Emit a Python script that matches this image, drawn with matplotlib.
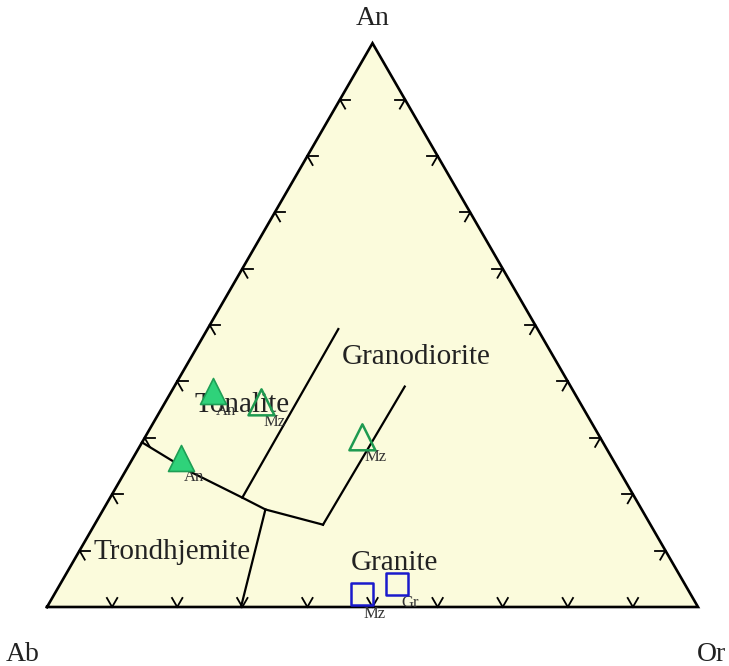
import matplotlib.pyplot as plt
import numpy as np

# Ternary An-Ab-Or classification (fractions of An, Or; Ab = 1 - An - Or)
# Field boundaries
bnd_trond_an = [0.292, 0.240, 0.194, 0.173, 0.146]
bnd_trond_or = [0.000, 0.100, 0.203, 0.249, 0.351]
bnd_ton_an = [0.194, 0.493]
bnd_ton_or = [0.203, 0.201]
bnd_gd_an = [0.146, 0.391]
bnd_gd_or = [0.351, 0.354]
bnd_gr_an = [0.173, 0.000]
bnd_gr_or = [0.249, 0.298]

# Samples
filled_an = [0.383, 0.265]
filled_or = [0.064, 0.073]
filled_lab = ['An', 'An']
open_an = [0.363, 0.301]
open_or = [0.148, 0.334]
open_lab = ['Mz', 'Mz']
sq_an = [0.023, 0.041]
sq_or = [0.472, 0.517]
sq_lab = ['Mz', 'Gr']

fields = ['Granodiorite', 'Tonalite', 'Trondhjemite', 'Granite']
field_an = [0.443, 0.359, 0.098, 0.078]
field_or = [0.345, 0.120, 0.143, 0.494]

H = np.sqrt(3) / 2


def xy(an, orr):
    an = np.asarray(an, float)
    orr = np.asarray(orr, float)
    return orr + an / 2, an * H


plt.rcParams['font.family'] = ['Liberation Serif', 'DejaVu Serif']

fig = plt.figure(figsize=(7.29, 6.66), dpi=100)
ax = fig.add_axes([0, 0, 1, 1])
ax.set_xlim(-47 / 651, 682 / 651)
ax.set_ylim(-59 / 651, 607 / 651)
ax.axis('off')

# triangle
tri_x = [0, 1, 0.5, 0]
tri_y = [0, 0, H, 0]
ax.fill(tri_x, tri_y, color='#FBFBDC', zorder=0)
ax.plot(tri_x, tri_y, color='black', lw=1.9, zorder=2, solid_joinstyle='miter')

# chevron ticks every 10 %
L = 0.016
d_up_right = np.array([0.5, H])
d_up_left = np.array([-0.5, H])
d_right = np.array([1.0, 0])
for t in np.arange(0.1, 0.95, 0.1):
    # base
    p = np.array([t, 0])
    for d in (d_up_left, d_up_right):
        ax.plot([p[0], p[0] + L * d[0]], [p[1], p[1] + L * d[1]], color='black', lw=1.3, zorder=2)
    # left edge
    p = np.array([t / 2, t * H])
    for d in (d_right, -d_up_left):
        ax.plot([p[0], p[0] + L * d[0]], [p[1], p[1] + L * d[1]], color='black', lw=1.3, zorder=2)
    # right edge
    p = np.array([1 - t / 2, t * H])
    for d in (-d_right, -d_up_right):
        ax.plot([p[0], p[0] + L * d[0]], [p[1], p[1] + L * d[1]], color='black', lw=1.3, zorder=2)

# field boundaries
for a, o in [(bnd_trond_an, bnd_trond_or), (bnd_ton_an, bnd_ton_or),
             (bnd_gd_an, bnd_gd_or), (bnd_gr_an, bnd_gr_or)]:
    bx, by = xy(a, o)
    ax.plot(bx, by, color='black', lw=1.6, zorder=2)

# field names
for name, a, o in zip(fields, field_an, field_or):
    fx, fy = xy(a, o)
    ax.text(fx, fy, name, fontsize=21, ha='center', va='center', color='#222222', zorder=3)

# corner labels
ax.text(0.5, H + 0.038, 'An', fontsize=20, ha='center', va='center', color='#222222')
ax.text(-0.038, -0.073, 'Ab', fontsize=20, ha='center', va='center', color='#222222')
ax.text(1.021, -0.073, 'Or', fontsize=20, ha='center', va='center', color='#222222')

# samples
lab_dx, lab_dy = 0.020, -0.030
px, py = xy(filled_an, filled_or)
ax.scatter(px, py, marker='^', s=350, facecolor='#2FD27A', edgecolor='#1E9E55', lw=1.2, zorder=4)
for x_, y_, s in zip(px, py, filled_lab):
    ax.text(x_ + lab_dx, y_ + lab_dy, s, fontsize=12, ha='center', va='center', color='#333333', zorder=3)

px, py = xy(open_an, open_or)
ax.scatter(px, py, marker='^', s=350, facecolor='none', edgecolor='#1E9A50', lw=1.8, zorder=4)
for x_, y_, s in zip(px, py, open_lab):
    ax.text(x_ + lab_dx, y_ + lab_dy, s, fontsize=12, ha='center', va='center', color='#333333', zorder=3)

px, py = xy(sq_an, sq_or)
ax.scatter(px, py, marker='s', s=250, facecolor='none', edgecolor='#1A1ACC', lw=1.8, zorder=4)
for x_, y_, s in zip(px, py, sq_lab):
    ax.text(x_ + lab_dx, y_ + lab_dy, s, fontsize=12, ha='center', va='center', color='#333333', zorder=3)

fig.savefig('out.png', dpi=100, facecolor='white')
